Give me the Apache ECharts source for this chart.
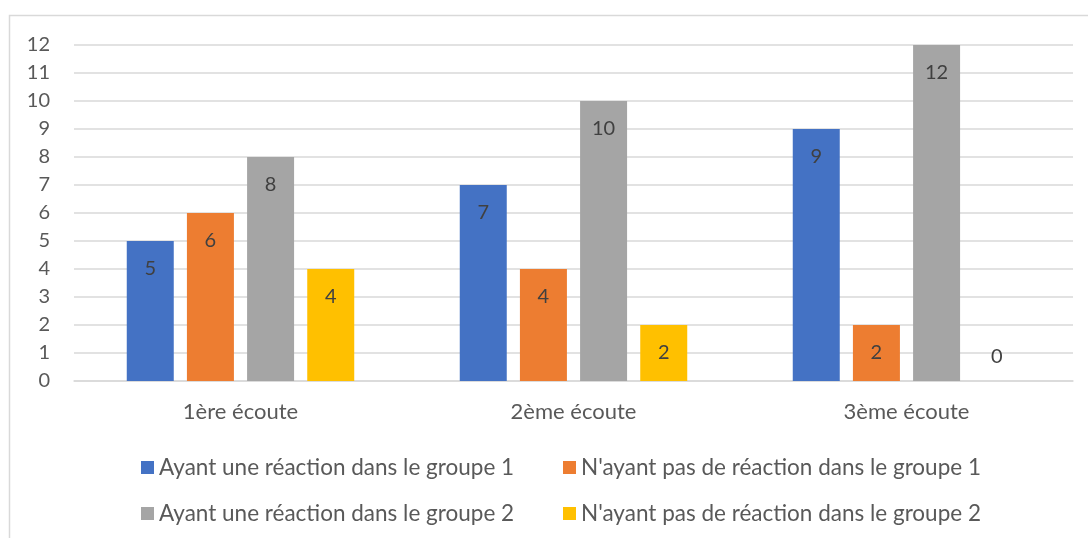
<!DOCTYPE html>
<html>
<head>
<meta charset="utf-8">
<script src="https://cdn.jsdelivr.net/npm/echarts@6/dist/echarts.min.js"></script>
<style>
  html, body { margin: 0; padding: 0; background: #fff; }
  #main { width: 1088px; height: 538px; }
</style>
</head>
<body>
<div id="main"></div>
<script>
'use strict';

const categories = ['1ère écoute', '2ème écoute', '3ème écoute'];
const seriesNames = [
    'Ayant une réaction dans le groupe 1',
    "N'ayant pas de réaction dans le groupe 1",
    'Ayant une réaction dans le groupe 2',
    "N'ayant pas de réaction dans le groupe 2"
];
const reactG1 = [5, 7, 9];
const noReactG1 = [6, 4, 2];
const reactG2 = [8, 10, 12];
const noReactG2 = [4, 2, 0];
const yTicks = [0, 12, 1]; // min, max, interval

const colors = ['#4472C4', '#ED7D31', '#A5A5A5', '#FFC000'];
const textColor = '#595959';
const font = 'Lato';

// zero bars get their label just above the axis, like the original
function withLabels(values) {
    return values.map(function (v) {
        if (v === 0) {
            return { value: v, label: { position: 'top', distance: 14 } };
        }
        return v;
    });
}

const allValues = [reactG1, noReactG1, reactG2, noReactG2];

let mChart = null;

window.onload = function () {
    mChart = echarts.init(document.getElementById('main'));

    const series = allValues.map(function (vals, i) {
        return {
            name: seriesNames[i],
            type: 'bar',
            data: withLabels(vals),
            barWidth: 47,
            barGap: '28%',
            itemStyle: { color: colors[i] },
            label: {
                show: true,
                position: 'insideTop',
                distance: 18,
                color: '#404040',
                fontSize: 20,
                fontFamily: font
            }
        };
    });

    const legendCommon = {
        orient: 'vertical',
        padding: 0,
        itemWidth: 13,
        itemHeight: 13,
        itemGap: 23,
        icon: 'rect',
        top: 456,
        textStyle: { color: textColor, fontSize: 22.5, fontFamily: font, lineHeight: 22 }
    };

    const options = {
        animation: false,
        backgroundColor: '#fff',
        graphic: [{
            type: 'rect',
            shape: { x: 9.5, y: 15.5, width: 1200, height: 700 },
            style: { fill: 'none', stroke: '#d9d9d9', lineWidth: 1.5 },
            silent: true
        }],
        legend: [
            Object.assign({}, legendCommon, { left: 141, data: [seriesNames[0], seriesNames[2]] }),
            Object.assign({}, legendCommon, { left: 563, data: [seriesNames[1], seriesNames[3]] })
        ],
        grid: { left: 74, right: 15, top: 45, bottom: 157 },
        xAxis: {
            type: 'category',
            data: categories,
            axisLine: { show: true, lineStyle: { color: '#d9d9d9', width: 1.5 } },
            axisTick: { show: false },
            axisLabel: { color: textColor, fontSize: 22, fontFamily: font, margin: 20 }
        },
        yAxis: {
            type: 'value',
            min: yTicks[0],
            max: yTicks[1],
            interval: yTicks[2],
            axisLine: { show: false },
            axisTick: { show: false },
            splitLine: { lineStyle: { color: '#d9d9d9', width: 1.5 } },
            axisLabel: { color: textColor, fontSize: 20, fontFamily: font, margin: 24 }
        },
        series: series
    };

    mChart.setOption(options, true);
};
</script>
</body>
</html>
